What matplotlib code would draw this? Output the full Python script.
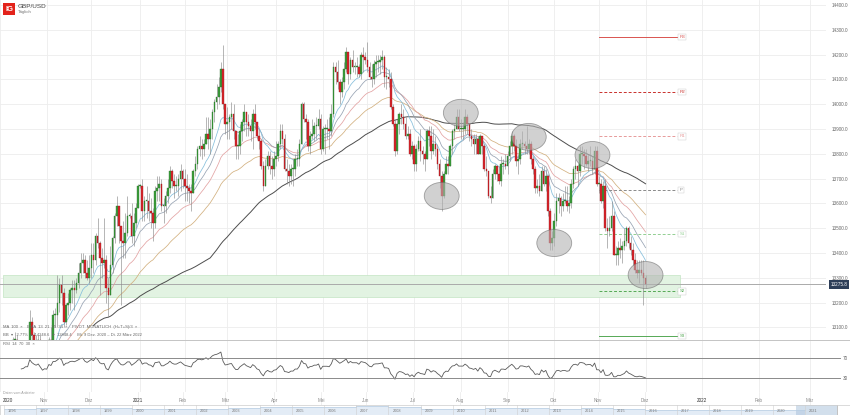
import numpy as np
import pandas as pd
import matplotlib
matplotlib.use('Agg')
import matplotlib.pyplot as plt
from matplotlib.patches import Ellipse, Rectangle
from matplotlib.lines import Line2D

plt.rcParams['font.family'] = ['Liberation Sans', 'DejaVu Sans']

# GBP/USD daily candles in points (1.3275 -> 13275), Oct 2020 .. 1 Dec 2021
closes = [
    12890, 12940, 12970, 12880, 12940, 12940, 13050, 13050, 12920, 13000, 12910, 12920, 12950, 12950, 13120, 13070, 13040, 13020, 13050, 12990, 12920, 12950,  # Oct
    12940, 13050, 13030, 13150, 13150, 13200, 13270, 13240, 13120, 13190, 13200, 13250, 13260, 13250, 13280, 13320, 13360, 13370, 13320, 13300, 13340,  # Nov
    13390, 13370, 13470, 13440, 13380, 13360, 13370, 13260, 13230, 13350, 13460, 13550, 13590, 13510, 13450, 13440, 13480, 13550, 13550, 13470, 13520, 13580, 13670,  # Dez
    13670, 13570, 13610, 13610, 13570, 13560, 13520, 13650, 13660, 13680, 13590, 13590, 13630, 13660, 13730, 13690, 13670, 13670, 13700, 13730, 13700,  # Jan
    13670, 13660, 13650, 13640, 13730, 13760, 13820, 13830, 13820, 13840, 13880, 13860, 13900, 13970, 14010, 14030, 14070, 14140, 14000, 13920,  # Feb
    13930, 13950, 13960, 13890, 13830, 13830, 13890, 13930, 13970, 13930, 13910, 13890, 13960, 13930, 13870, 13850, 13750, 13670, 13750, 13790, 13750, 13740, 13780,  # Mär
    13790, 13840, 13890, 13860, 13740, 13730, 13710, 13740, 13740, 13780, 13780, 13840, 14000, 13940, 13930, 13830, 13870, 13880, 13910, 13910, 13940, 13820,  # Apr
    13900, 13900, 13900, 13890, 13960, 14150, 14130, 14090, 14050, 14090, 14140, 14210, 14120, 14180, 14150, 14150, 14150, 14120, 14200, 14190, 14180,  # Mai
    14150, 14110, 14100, 14160, 14170, 14170, 14180, 14190, 14110, 14110, 14100, 13990, 13920, 13810, 13920, 13960, 13950, 13920, 13870, 13880, 13800, 13830,  # Jun
    13760, 13820, 13850, 13810, 13800, 13780, 13890, 13870, 13810, 13840, 13820, 13760, 13710, 13630, 13720, 13760, 13750, 13830, 13890, 13900, 13950, 13900,  # Jul
    13900, 13900, 13950, 13920, 13870, 13860, 13840, 13860, 13800, 13870, 13830, 13740, 13730, 13630, 13620, 13720, 13750, 13720, 13690, 13760, 13760, 13750,  # Aug
    13790, 13830, 13870, 13830, 13770, 13780, 13840, 13840, 13830, 13820, 13840, 13780, 13740, 13660, 13670, 13650, 13730, 13680, 13710, 13570, 13440, 13460,  # Sep
    13530, 13610, 13620, 13590, 13610, 13610, 13590, 13600, 13680, 13740, 13750, 13730, 13800, 13800, 13790, 13760, 13770, 13770, 13740, 13810, 13680,  # Okt
    13680, 13610, 13670, 13500, 13490, 13500, 13550, 13390, 13390, 13420, 13410, 13430, 13450, 13500, 13440, 13410, 13370, 13330, 13320, 13330, 13320, 13300,  # Nov
    13276,  # Dez
]
highs = [
    12980, 12965, 13010, 13000, 12950, 12970, 13060, 13080, 13070, 13030, 13030, 12960, 13000, 12980, 13170, 13140, 13080, 13070, 13070, 13070, 13020, 12990,
    12960, 13060, 13100, 13170, 13180, 13310, 13300, 13310, 13260, 13200, 13240, 13260, 13290, 13290, 13300, 13360, 13400, 13400, 13390, 13370, 13390,
    13440, 13440, 13480, 13540, 13450, 13420, 13540, 13390, 13300, 13430, 13470, 13560, 13630, 13590, 13510, 13530, 13560, 13630, 13560, 13600, 13560, 13600, 13680,
    13680, 13700, 13630, 13670, 13640, 13620, 13580, 13670, 13710, 13710, 13700, 13620, 13650, 13700, 13750, 13740, 13720, 13710, 13720, 13760, 13740,
    13740, 13720, 13680, 13680, 13740, 13790, 13830, 13870, 13860, 13860, 13950, 13950, 13940, 13980, 14020, 14080, 14110, 14170, 14240, 14000,
    13990, 13960, 14010, 14000, 13880, 13880, 13920, 13940, 14000, 13970, 13960, 13940, 13980, 14000, 13930, 13900, 13860, 13770, 13780, 13810, 13810, 13790, 13810,
    13850, 13850, 13920, 13920, 13880, 13780, 13760, 13760, 13780, 13800, 13820, 13860, 14010, 14010, 13960, 13940, 13890, 13940, 13930, 13950, 13980, 13960,
    13910, 13920, 13940, 13950, 14000, 14170, 14170, 14180, 14100, 14110, 14170, 14230, 14200, 14190, 14220, 14170, 14190, 14160, 14210, 14230, 14210,
    14250, 14170, 14160, 14180, 14200, 14200, 14200, 14220, 14200, 14150, 14140, 14130, 14000, 13940, 13940, 13970, 14000, 13980, 13950, 13910, 13900, 13850,
    13840, 13840, 13870, 13900, 13830, 13810, 13900, 13910, 13910, 13900, 13870, 13840, 13780, 13730, 13730, 13790, 13790, 13840, 13900, 13920, 13980, 13980,
    13940, 13930, 13980, 13960, 13920, 13900, 13880, 13880, 13870, 13880, 13860, 13840, 13790, 13720, 13670, 13740, 13760, 13750, 13750, 13790, 13780, 13800,
    13810, 13850, 13890, 13880, 13860, 13800, 13860, 13890, 13850, 13910, 13860, 13850, 13790, 13750, 13700, 13720, 13750, 13750, 13740, 13720, 13580, 13490,
    13560, 13640, 13640, 13630, 13640, 13670, 13670, 13630, 13700, 13750, 13780, 13760, 13830, 13830, 13820, 13820, 13800, 13830, 13790, 13830, 13830,
    13710, 13700, 13690, 13700, 13540, 13550, 13610, 13570, 13430, 13450, 13460, 13450, 13500, 13510, 13510, 13470, 13440, 13400, 13370, 13370, 13370, 13370,
    13310,
]
lows = [
    12820, 12850, 12900, 12860, 12860, 12880, 12920, 12990, 12900, 12860, 12870, 12870, 12870, 12860, 12920, 13040, 12990, 12980, 13000, 12960, 12910, 12880,
    12860, 12920, 12910, 13000, 13100, 13100, 13160, 13190, 13100, 13110, 13150, 13170, 13200, 13170, 13240, 13260, 13300, 13320, 13300, 13290, 13280,
    13300, 13320, 13350, 13420, 13230, 13300, 13340, 13200, 13140, 13300, 13320, 13440, 13510, 13440, 13190, 13380, 13380, 13470, 13540, 13440, 13430, 13500, 13580,
    13660, 13530, 13530, 13540, 13530, 13500, 13450, 13500, 13610, 13610, 13570, 13520, 13560, 13600, 13640, 13660, 13620, 13650, 13630, 13650, 13660,
    13610, 13610, 13600, 13570, 13640, 13710, 13740, 13790, 13780, 13790, 13860, 13820, 13800, 13860, 13930, 13980, 14000, 14050, 13980, 13880,
    13860, 13860, 13900, 13860, 13780, 13780, 13800, 13850, 13890, 13870, 13870, 13850, 13820, 13900, 13860, 13820, 13740, 13650, 13670, 13740, 13720, 13700, 13710,
    13750, 13770, 13820, 13840, 13730, 13680, 13670, 13680, 13670, 13710, 13750, 13750, 13840, 13930, 13860, 13810, 13800, 13860, 13850, 13860, 13900, 13800,
    13810, 13800, 13860, 13820, 13870, 13950, 14080, 14060, 14000, 14030, 14060, 14130, 14080, 14100, 14130, 14120, 14110, 14110, 14100, 14130, 14160,
    14130, 14100, 14070, 14080, 14110, 14130, 14120, 14140, 14070, 14060, 14070, 13980, 13910, 13790, 13800, 13880, 13920, 13900, 13860, 13860, 13790, 13780,
    13730, 13730, 13810, 13770, 13760, 13730, 13780, 13830, 13780, 13800, 13790, 13740, 13660, 13570, 13620, 13720, 13720, 13750, 13800, 13860, 13900, 13890,
    13860, 13860, 13880, 13880, 13850, 13830, 13800, 13800, 13800, 13800, 13800, 13730, 13710, 13620, 13600, 13620, 13700, 13690, 13680, 13670, 13720, 13740,
    13720, 13770, 13800, 13810, 13750, 13720, 13760, 13820, 13800, 13800, 13800, 13760, 13720, 13640, 13640, 13630, 13650, 13670, 13650, 13550, 13410, 13410,
    13430, 13510, 13560, 13550, 13570, 13600, 13570, 13560, 13580, 13660, 13700, 13670, 13710, 13760, 13740, 13750, 13730, 13750, 13720, 13720, 13670,
    13640, 13600, 13580, 13490, 13420, 13470, 13490, 13390, 13350, 13350, 13380, 13360, 13410, 13430, 13420, 13390, 13350, 13320, 13300, 13280, 13310, 13190,
    13260,
]

last_price = 13275.8
pivot_names = ['R3', 'R2', 'R1', 'P', 'S1', 'S2', 'S3']
pivot_levels = [14270, 14050, 13870, 13655, 13475, 13245, 13065]
zone_low, zone_high = 13222, 13312
circle_dates = ['2021-07-20', '2021-08-02', '2021-09-15', '2021-10-01', '2021-10-27', '2021-12-01']
circle_prices = [13630, 13965, 13868, 13440, 13795, 13311]

month_starts = pd.date_range('2020-10-01', '2022-03-01', freq='MS')
month_labels = ['2020', 'Nov', 'Dez', '2021', 'Feb', 'Mär', 'Apr', 'Mai', 'Jun', 'Jul', 'Aug',
                'Sep', 'Okt', 'Nov', 'Dez', '2022', 'Feb', 'Mär']

nav_years = list(range(1996, 2022))
nav_prices = [1.56, 1.64, 1.66, 1.62, 1.52, 1.44, 1.50, 1.63, 1.83, 1.82, 1.84, 2.00, 1.85,
              1.57, 1.55, 1.60, 1.59, 1.56, 1.65, 1.53, 1.36, 1.29, 1.33, 1.28, 1.28, 1.38]

# ---------------------------------------------------------------------------
W, H = 850, 415
dates = pd.bdate_range(end='2021-12-01', periods=len(closes))
x = np.arange(len(closes))
c = np.array(closes, float)
o = np.r_[c[0], c[:-1]]
hi = np.maximum(np.array(highs, float), np.maximum(o, c))
lo = np.minimum(np.array(lows, float), np.minimum(o, c))

s = pd.Series(c)
emas = {n: s.ewm(span=n, adjust=False).mean() for n in (13, 21, 34, 55)}
ema_cols = {13: '#86bfdc', 21: '#97a3b3', 34: '#e3a3a3', 55: '#d2b07f'}
ma100 = s.rolling(100, min_periods=45).mean()
d = s.diff()
up = d.clip(lower=0).ewm(alpha=1 / 14, min_periods=10).mean()
dn = (-d.clip(upper=0)).ewm(alpha=1 / 14, min_periods=10).mean()
rsi = 100 - 100 / (1 + up / dn)

i_last = len(c) - 1
i_dec20 = dates.searchsorted(pd.Timestamp('2020-12-01'))
ppx = (645 - 89) / (i_last - i_dec20)          # pixels per candle
xl = (i_dec20 - 89 / ppx, i_dec20 + (826 - 89) / ppx)


def xpos(dt):
    dt = pd.Timestamp(dt)
    if dt <= dates[-1]:
        return dates.searchsorted(dt)
    return i_last + (dt - dates[-1]).days * 0.86


def box(x0, y0, x1, y1):
    return [x0 / W, 1 - y1 / H, (x1 - x0) / W, (y1 - y0) / H]


mx = [xpos(m) for m in month_starts]

fig = plt.figure(figsize=(W / 100, H / 100), dpi=100)
fig.patch.set_facecolor('white')

# ---- main price panel ----
ax = fig.add_axes(box(0, 0, 826, 340))
ax.set_xlim(*xl)
ax.set_ylim(13049, 14420)
for sp in ax.spines.values():
    sp.set_visible(False)
ax.set_xticks(mx)
ax.set_xticklabels([])
ax.tick_params(axis='x', length=0)
ax.set_yticks(np.arange(13100, 14401, 100))
ax.set_yticklabels([f'{v:.1f}' for v in np.arange(13100, 14401, 100)])
ax.yaxis.tick_right()
ax.tick_params(axis='y', length=0, pad=4.3, labelsize=3.3, labelcolor='#666')
ax.grid(True, color='#ededed', lw=0.6)
ax.set_axisbelow(True)

x_zone_end = i_last + 16
ax.fill_between([xl[0], x_zone_end], zone_low, zone_high, color='#e2f3e2', ec='#c3e4c3', lw=0.5, zorder=1)
ax.axhline(last_price, color='#aaaaaa', lw=0.7, zorder=1.5)

# moving averages
ax.plot(x, ma100, color='#4d4d4d', lw=0.7, zorder=2)
for n in (55, 34, 21, 13):
    ax.plot(x, emas[n], color=ema_cols[n], lw=0.55, zorder=2)

# candles
bull = c >= o
ax.vlines(x, lo, hi, color='#8c8c8c', lw=0.45, zorder=3)
body = np.maximum(np.abs(c - o), 4)
ax.bar(x[bull], body[bull], bottom=np.minimum(o, c)[bull], width=0.75,
       color='#3c9e3c', edgecolor='#246b24', lw=0.25, zorder=4)
ax.bar(x[~bull], body[~bull], bottom=np.minimum(o, c)[~bull], width=0.75,
       color='#d9262c', edgecolor='#8f1418', lw=0.25, zorder=4)

# monthly pivot levels
piv_start = xpos('2021-11-01')
piv_end = i_last + 15
piv_style = {'R3': ('#d9534f', '-'), 'R2': ('#c9302c', (0, (3, 2))), 'R1': ('#e79a9a', (0, (3, 2))),
             'P': ('#8a8a8a', (0, (3, 2))), 'S1': ('#92cf92', (0, (3, 2))),
             'S2': ('#55a955', (0, (3, 2))), 'S3': ('#55a955', '-')}
for name, lvl in zip(pivot_names, pivot_levels):
    col, ls = piv_style[name]
    ax.plot([piv_start, piv_end], [lvl, lvl], color=col, ls=ls, lw=0.7, zorder=2.5)
    ax.text(piv_end + 1, lvl, name, fontsize=3.2, color=col, va='center', ha='left',
            bbox=dict(boxstyle='square,pad=0.25', fc='white', ec='#c8c8c8', lw=0.3), zorder=6)

# highlighted swing points
for dt, pr in zip(circle_dates, circle_prices):
    ax.add_patch(Ellipse((xpos(dt), pr), width=35 / ppx, height=27 / 0.248,
                         fc='#b3b3b3', ec='#6a6a6a', lw=0.6, alpha=0.6, zorder=5))

# current price box
fig.add_artist(Rectangle((829 / W, 1 - 289 / H), 20 / W, 9 / H, transform=fig.transFigure,
                         fc='#2d3e58', ec='none'))
fig.text(839 / W, 1 - 284.5 / H, f'{last_price:.1f}', color='white', fontsize=3.3,
         ha='center', va='center')

# ---- RSI panel ----
ar = fig.add_axes(box(0, 340, 826, 392))
ar.set_xlim(*xl)
ar.set_ylim(2, 106)
for sp in ar.spines.values():
    sp.set_visible(False)
ar.set_xticks(mx)
ar.set_xticklabels([])
ar.set_yticks([])
ar.tick_params(axis='x', length=0)
ar.grid(True, axis='x', color='#ededed', lw=0.6)
ar.plot(x, rsi, color='#5a5a5a', lw=0.6)
for lvl in (70, 30):
    ar.plot([0, 840 / 826], [lvl, lvl], transform=ar.get_yaxis_transform(), color='#8a8a8a',
            lw=0.7, clip_on=False)
    ar.text(843 / 826, lvl, str(lvl), transform=ar.get_yaxis_transform(), fontsize=3.3,
            color='#666', va='center', ha='left')

fig.add_artist(Line2D([0, 1], [1 - 339.5 / H] * 2, color='#c4c4c4', lw=0.7))

# ---- time axis labels ----
at = fig.add_axes(box(0, 392, 826, 405))
at.set_xlim(*xl)
at.set_ylim(0, 1)
at.axis('off')
for xm, lab in zip(mx, month_labels):
    at.axvline(xm, color='#ededed', lw=0.6)
    year = lab.isdigit()
    if xm < xl[0] + 4:
        at.text(xl[0] + 2.5 / ppx, 0.35, lab, fontsize=3.3, color='#333', ha='left', va='center')
    else:
        at.text(xm, 0.35, lab, fontsize=3.3, color='#333' if year else '#888', ha='center', va='center')

# ---- navigator ----
an = fig.add_axes(box(0, 405, 850, 415))
an.set_xlim(1995.88, 2022.4)
an.set_ylim(0.6, 2.1)
an.set_xticks([])
an.set_yticks([])
for sp in an.spines.values():
    sp.set_color('#cccccc')
    sp.set_linewidth(0.5)
an.fill_between(nav_years, 0, nav_prices, color='#e3ecf6', step='post', lw=0)
an.plot(nav_years, nav_prices, color='#b7cde3', lw=0.5, drawstyle='steps-post')
for yr in nav_years:
    an.axvline(yr, color='#cfcfcf', lw=0.4)
    an.text(yr + 0.12, 1.2, str(yr), fontsize=2.8, color='#777', va='center', ha='left')
an.axvspan(2020.7, 2022.0, color='#9db8d6', alpha=0.45, lw=0)
an.axvspan(2022.0, 2022.4, color='white', lw=0)
an.axvline(2022.0, color='#aaaaaa', lw=0.5)

# ---- header and legends ----
fig.add_artist(Rectangle((3 / W, 1 - 15 / H), 12 / W, 12 / H, transform=fig.transFigure,
                         fc='#e3231b', ec='none'))
fig.text(9 / W, 1 - 9.2 / H, 'IG', color='white', fontsize=5.5, fontweight='bold', ha='center', va='center')
fig.text(18 / W, 1 - 6 / H, 'GBP/USD', color='#444', fontsize=4.6, va='center')
fig.text(18 / W, 1 - 12.5 / H, 'Täglich', color='#777', fontsize=3.2, va='center')

fig.text(3 / W, 1 - 327 / H,
         'MA  100  ×    EMA  13  21  55  34  ×    PIVOT  MONATLICH  (H+T+S)/3  ×',
         fontsize=3, color='#666', va='center')
fig.text(3 / W, 1 - 335.5 / H,
         'BB  ▾   2.77%  ▴  14248.6   ▾  12848.4     Mi. 9 Dez. 2020 – Di. 22 März 2022',
         fontsize=3, color='#666', va='center')
fig.text(3 / W, 1 - 344 / H, 'RSI  14  70  30  ×', fontsize=3, color='#666', va='center')
fig.text(3 / W, 1 - 393 / H, 'Daten vom Anbieter', fontsize=2.6, color='#999', va='center')

fig.savefig('out.png', dpi=100, facecolor='white')
